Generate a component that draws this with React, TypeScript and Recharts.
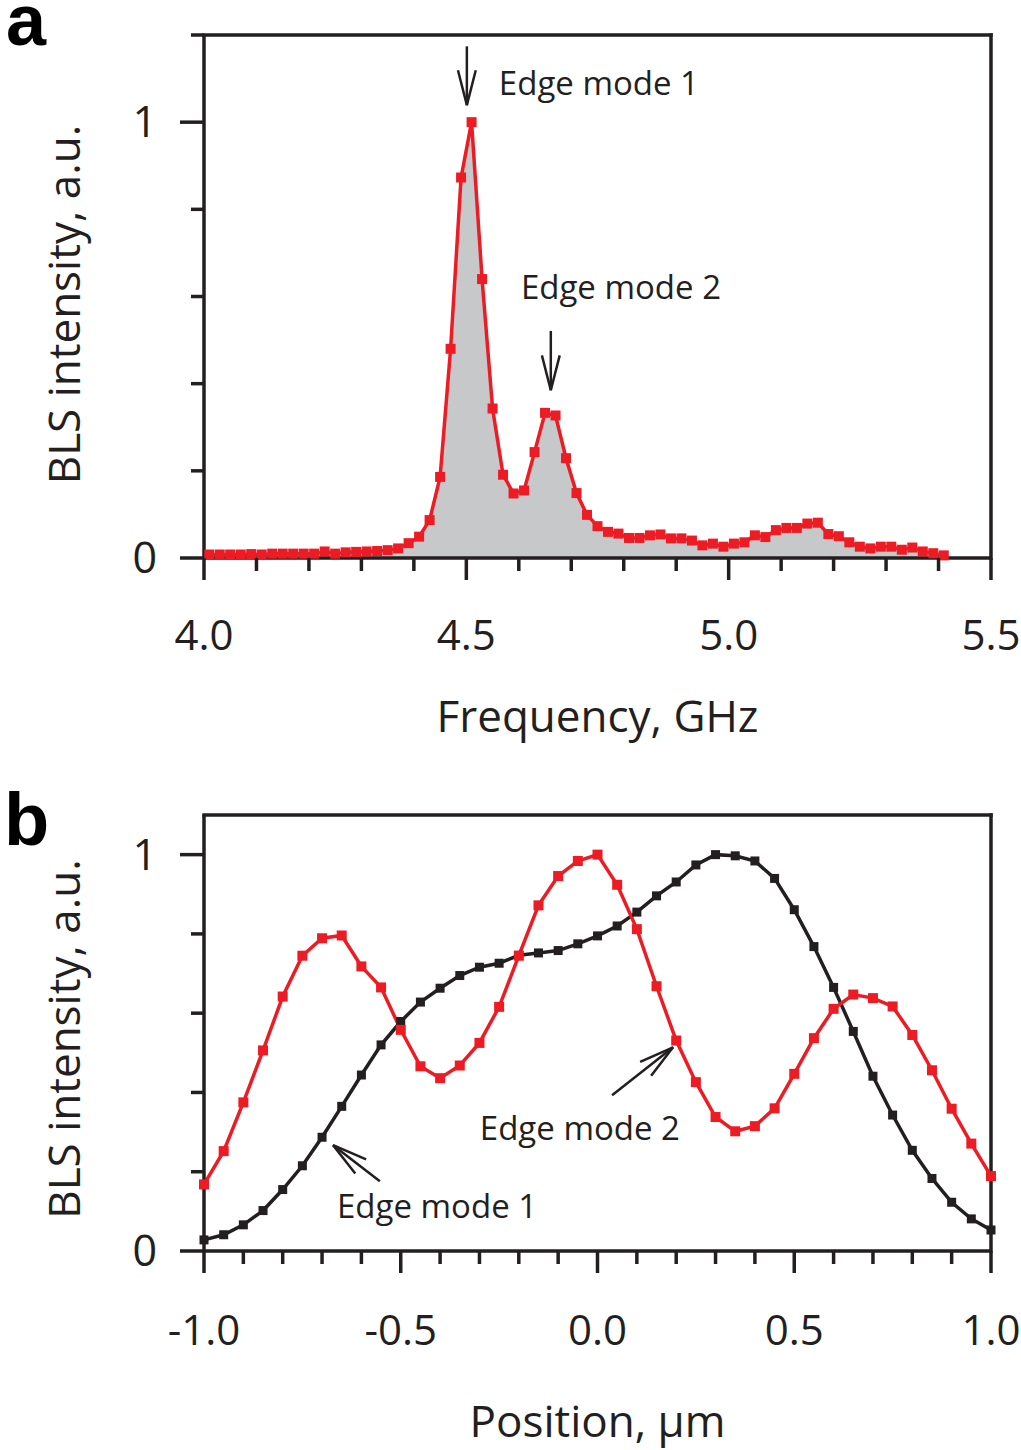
import React from "react";
import {
  ComposedChart,
  Area,
  Line,
  XAxis,
  YAxis,
  ReferenceLine,
  ReferenceDot,
  Label,
} from "recharts";

const FONT = '"Open Sans", sans-serif';
const RED = "#ed1c24";
const INK = "#231f20";
const GREY = "#c7c8ca";

// (a) BLS spectrum
const frequency = [
  4.01, 4.03, 4.05, 4.07, 4.09, 4.11, 4.13, 4.15, 4.17, 4.19, 4.21, 4.23,
  4.25, 4.27, 4.29, 4.31, 4.33, 4.35, 4.37, 4.39, 4.41, 4.43, 4.45, 4.47,
  4.49, 4.51, 4.53, 4.55, 4.57, 4.59, 4.61, 4.63, 4.65, 4.67, 4.69, 4.71,
  4.73, 4.75, 4.77, 4.79, 4.81, 4.83, 4.85, 4.87, 4.89, 4.91, 4.93, 4.95,
  4.97, 4.99, 5.01, 5.03, 5.05, 5.07, 5.09, 5.11, 5.13, 5.15, 5.17, 5.19,
  5.21, 5.23, 5.25, 5.27, 5.29, 5.31, 5.33, 5.35, 5.37, 5.39, 5.41,
];
const spectrum = [
  0.008, 0.008, 0.008, 0.008, 0.009, 0.008, 0.01, 0.01, 0.01, 0.01, 0.01,
  0.015, 0.01, 0.013, 0.014, 0.015, 0.016, 0.018, 0.022, 0.034, 0.049, 0.087,
  0.186, 0.48, 0.873, 1.0, 0.64, 0.343, 0.191, 0.148, 0.155, 0.243, 0.333,
  0.327, 0.229, 0.149, 0.099, 0.073, 0.06, 0.056, 0.046, 0.046, 0.052, 0.054,
  0.045, 0.045, 0.04, 0.029, 0.033, 0.026, 0.033, 0.036, 0.052, 0.048, 0.064,
  0.069, 0.069, 0.079, 0.081, 0.055, 0.05, 0.036, 0.026, 0.022, 0.026, 0.026,
  0.019, 0.024, 0.015, 0.011, 0.006,
];
const freqTicks = [
  4.0, 4.1, 4.2, 4.3, 4.4, 4.5, 4.6, 4.7, 4.8, 4.9, 5.0, 5.1, 5.2, 5.3, 5.4,
  5.5,
];
const freqMajor = [4.0, 4.5, 5.0, 5.5];
const spectrumTicks = [0, 0.2, 0.4, 0.6, 0.8, 1.0, 1.2];

// (b) mode profiles across the stripe
const position = [
  -1.0, -0.95, -0.9, -0.85, -0.8, -0.75, -0.7, -0.65, -0.6, -0.55, -0.5,
  -0.45, -0.4, -0.35, -0.3, -0.25, -0.2, -0.15, -0.1, -0.05, 0.0, 0.05, 0.1,
  0.15, 0.2, 0.25, 0.3, 0.35, 0.4, 0.45, 0.5, 0.55, 0.6, 0.65, 0.7, 0.75, 0.8,
  0.85, 0.9, 0.95, 1.0,
];
const edgeMode1 = [
  0.028, 0.041, 0.066, 0.102, 0.155, 0.215, 0.287, 0.365, 0.444, 0.52, 0.579,
  0.628, 0.663, 0.695, 0.716, 0.726, 0.746, 0.752, 0.758, 0.775, 0.795, 0.82,
  0.855, 0.896, 0.931, 0.974, 1.0, 0.997, 0.984, 0.94, 0.861, 0.768, 0.665,
  0.554, 0.441, 0.343, 0.254, 0.183, 0.123, 0.081, 0.053,
];
const edgeMode2 = [
  0.168, 0.252, 0.375, 0.506, 0.642, 0.745, 0.789, 0.796, 0.718, 0.665, 0.558,
  0.466, 0.436, 0.468, 0.525, 0.616, 0.745, 0.872, 0.946, 0.984, 1.0, 0.924,
  0.812, 0.668, 0.531, 0.426, 0.338, 0.302, 0.315, 0.36, 0.447, 0.537, 0.611,
  0.647, 0.638, 0.617, 0.545, 0.456, 0.359, 0.271, 0.189,
];
const positionTicks = [
  -1.0, -0.9, -0.8, -0.7, -0.6, -0.5, -0.4, -0.3, -0.2, -0.1, 0.0, 0.1, 0.2,
  0.3, 0.4, 0.5, 0.6, 0.7, 0.8, 0.9, 1.0,
];
const positionMajor = [-1.0, -0.5, 0.0, 0.5, 1.0];
const profileTicks = [0, 0.2, 0.4, 0.6, 0.8, 1.0];

const intensityLabels = [0, 1];

const spectrumData = frequency.map((f, i) => ({ f, v: spectrum[i] }));
const profileData = position.map((p, i) => ({
  p,
  m1: edgeMode1[i],
  m2: edgeMode2[i],
}));

const has = (list: number[], v: number) =>
  list.some((m) => Math.abs(m - v) < 1e-6);

const makeXTick = (major: number[], labelDy: number) => (props: any) => {
  const { x, y, payload } = props;
  const big = has(major, payload.value);
  return (
    <g>
      <line x1={x} y1={y} x2={x} y2={y + (big ? 22 : 13)} stroke={INK} strokeWidth={3.5} />
      {big && (
        <text x={x} y={y + labelDy} textAnchor="middle" fontSize={42} fontFamily={FONT} fill={INK}>
          {payload.value.toFixed(1)}
        </text>
      )}
    </g>
  );
};

const YTick = (props: any) => {
  const { x, y, payload } = props;
  const big = has(intensityLabels, payload.value);
  return (
    <g>
      <line x1={x} y1={y} x2={x - (big ? 24 : 13)} y2={y} stroke={INK} strokeWidth={3.5} />
      {big && (
        <text x={x - 47} y={y + 15} textAnchor="end" fontSize={43} fontFamily={FONT} fill={INK}>
          {payload.value}
        </text>
      )}
    </g>
  );
};

const xTitle = (text: string, dy: number) => (props: any) => {
  const { x, y, width } = props.viewBox;
  return (
    <text x={x + width / 2} y={y + dy} textAnchor="middle" fontSize={44} fontFamily={FONT} fill={INK}>
      {text}
    </text>
  );
};

const yTitle = (text: string, shift: number) => (props: any) => {
  const { y, height } = props.viewBox;
  const cx = 80;
  const cy = y + height / 2 + shift;
  return (
    <text
      x={cx}
      y={cy}
      transform={`rotate(-90 ${cx} ${cy})`}
      textAnchor="middle"
      fontSize={44}
      fontFamily={FONT}
      fill={INK}
    >
      {text}
    </text>
  );
};

const square = (color: string, size: number) => (props: any) => {
  const { cx, cy, index } = props;
  if (cx == null || cy == null) return <g key={index} />;
  return <rect key={index} x={cx - size / 2} y={cy - size / 2} width={size} height={size} fill={color} />;
};

// open arrowhead at the second point of the segment
const Arrow = (props: any) => {
  const { x1, y1, x2, y2 } = props;
  const ang = Math.atan2(y2 - y1, x2 - x1);
  const len = 36;
  const spread = 0.25;
  const ax = x2 - len * Math.cos(ang - spread);
  const ay = y2 - len * Math.sin(ang - spread);
  const bx = x2 - len * Math.cos(ang + spread);
  const by = y2 - len * Math.sin(ang + spread);
  return (
    <g>
      <line x1={x1} y1={y1} x2={x2} y2={y2} stroke={INK} strokeWidth={2.5} />
      <polyline points={`${ax},${ay} ${x2},${y2} ${bx},${by}`} fill="none" stroke={INK} strokeWidth={2.5} />
    </g>
  );
};

const note = (text: string) => (props: any) => (
  <text x={props.cx} y={props.cy} fontSize={33} fontFamily={FONT} fill={INK}>
    {text}
  </text>
);

const axisLine = { stroke: INK, strokeWidth: 3.5 };

function SpectrumPanel() {
  return (
    <ComposedChart
      width={1021}
      height={760}
      data={spectrumData}
      margin={{ top: 35, right: 30, bottom: 0, left: 0 }}
    >
      <XAxis
        dataKey="f"
        type="number"
        domain={[4.0, 5.5]}
        ticks={freqTicks}
        interval={0}
        height={202}
        tickSize={0}
        tickMargin={0}
        tickLine={false}
        axisLine={axisLine}
        tick={makeXTick(freqMajor, 92)}
      >
        <Label content={xTitle("Frequency, GHz", 174)} />
      </XAxis>
      <YAxis
        type="number"
        domain={[0, 1.2]}
        ticks={spectrumTicks}
        interval={0}
        width={204}
        tickSize={0}
        tickMargin={0}
        tickLine={false}
        axisLine={axisLine}
        tick={<YTick />}
      >
        <Label content={yTitle("BLS intensity, a.u.", 8)} />
      </YAxis>
      <ReferenceLine y={1.2} stroke={INK} strokeWidth={3.5} strokeLinecap="square" />
      <ReferenceLine x={5.5} stroke={INK} strokeWidth={3.5} strokeLinecap="square" />
      <Area
        type="linear"
        dataKey="v"
        stroke={RED}
        strokeWidth={3.5}
        fill={GREY}
        fillOpacity={1}
        dot={square(RED, 10)}
        activeDot={false}
        isAnimationActive={false}
      />
      <ReferenceLine segment={[{ x: 4.501, y: 1.174 }, { x: 4.501, y: 1.039 }]} shape={Arrow} />
      <ReferenceLine segment={[{ x: 4.661, y: 0.521 }, { x: 4.661, y: 0.385 }]} shape={Arrow} />
      <ReferenceDot x={4.562} y={1.062} r={0} shape={note("Edge mode 1")} />
      <ReferenceDot x={4.604} y={0.595} r={0} shape={note("Edge mode 2")} />
    </ComposedChart>
  );
}

function ProfilePanel() {
  return (
    <ComposedChart
      width={1021}
      height={690}
      data={profileData}
      margin={{ top: 55, right: 30, bottom: 0, left: 0 }}
    >
      <XAxis
        dataKey="p"
        type="number"
        domain={[-1, 1]}
        ticks={positionTicks}
        interval={0}
        height={199}
        tickSize={0}
        tickMargin={0}
        tickLine={false}
        axisLine={axisLine}
        tick={makeXTick(positionMajor, 94)}
      >
        <Label content={xTitle("Position, µm", 186)} />
      </XAxis>
      <YAxis
        type="number"
        domain={[0, 1.1]}
        ticks={profileTicks}
        interval={0}
        width={204}
        tickSize={0}
        tickMargin={0}
        tickLine={false}
        axisLine={axisLine}
        tick={<YTick />}
      >
        <Label content={yTitle("BLS intensity, a.u.", 6)} />
      </YAxis>
      <ReferenceLine y={1.1} stroke={INK} strokeWidth={3.5} strokeLinecap="square" />
      <ReferenceLine x={1} stroke={INK} strokeWidth={3.5} strokeLinecap="square" />
      <Line
        type="linear"
        dataKey="m1"
        stroke={INK}
        strokeWidth={3.5}
        dot={square(INK, 9)}
        activeDot={false}
        isAnimationActive={false}
      />
      <Line
        type="linear"
        dataKey="m2"
        stroke={RED}
        strokeWidth={3.5}
        dot={square(RED, 10)}
        activeDot={false}
        isAnimationActive={false}
      />
      <ReferenceLine segment={[{ x: -0.553, y: 0.176 }, { x: -0.672, y: 0.267 }]} shape={Arrow} />
      <ReferenceLine segment={[{ x: 0.037, y: 0.393 }, { x: 0.192, y: 0.514 }]} shape={Arrow} />
      <ReferenceDot x={-0.662} y={0.082} r={0} shape={note("Edge mode 1")} />
      <ReferenceDot x={-0.299} y={0.281} r={0} shape={note("Edge mode 2")} />
    </ComposedChart>
  );
}

export default function App() {
  return (
    <div style={{ position: "absolute", left: 0, top: 0, width: 1021, height: 1450, background: "#fff" }}>
      <div style={{ position: "absolute", left: 0, top: 0 }}>
        <SpectrumPanel />
      </div>
      <div style={{ position: "absolute", left: 0, top: 760 }}>
        <ProfilePanel />
      </div>
      <svg
        width={1021}
        height={1450}
        style={{ position: "absolute", left: 0, top: 0, pointerEvents: "none" }}
      >
        <text x={6} y={45} fontSize={72} fontWeight="bold" fontFamily='"Liberation Sans", Arial, sans-serif' fill="#000">
          a
        </text>
        <text x={4} y={845} fontSize={74} fontWeight="bold" fontFamily='"Liberation Sans", Arial, sans-serif' fill="#000">
          b
        </text>
      </svg>
    </div>
  );
}
